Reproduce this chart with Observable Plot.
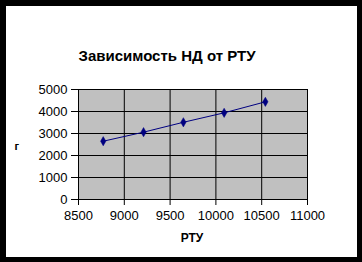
<!DOCTYPE html>
<html>
<head>
<meta charset="utf-8">
<script src="https://cdn.jsdelivr.net/npm/d3@7"></script>
<script src="https://cdn.jsdelivr.net/npm/@observablehq/plot@0.6"></script>
<style>
  html, body { margin: 0; padding: 0; background: #fff; }
  #wrap { width: 362px; height: 262px; box-sizing: border-box; background: #000;
          padding: 6px 5px 5px 6px; }
  #wrap svg { display: block; background: #fff; }
</style>
</head>
<body>
<div id="wrap"></div>
<script>
const rtu = [8770, 9210, 9645, 10090, 10540];
const nd = [2650, 3060, 3510, 3940, 4440];
const xTicks = [8500, 9000, 9500, 10000, 10500, 11000];
const yTicks = [0, 1000, 2000, 3000, 4000, 5000];
const title = "Зависимость НД от РТУ";
const xLabel = "РТУ";
const yLabel = "г";

const data = rtu.map((x, i) => ({x, y: nd[i]}));
const font = "'Liberation Sans', Arial, sans-serif";
const fmt = d => String(d);

const chart = Plot.plot({
  width: 351,
  height: 251,
  marginLeft: 72,
  marginRight: 50,
  marginTop: 83,
  marginBottom: 58,
  style: {fontFamily: font, fontSize: "13px", color: "#000", background: "#fff"},
  x: {domain: [8500, 11000]},
  y: {domain: [0, 5000]},
  marks: [
    Plot.frame({fill: "#c0c0c0", stroke: "none"}),
    Plot.gridX(xTicks, {stroke: "#000", strokeOpacity: 1, strokeWidth: 1}),
    Plot.gridY(yTicks, {stroke: "#000", strokeOpacity: 1, strokeWidth: 1}),
    Plot.axisX(xTicks, {tickSize: 6, tickPadding: 5, fontSize: 13, label: null, stroke: "#000", tickFormat: fmt}),
    Plot.axisY(yTicks, {tickSize: 7, tickPadding: 4, fontSize: 13, label: null, stroke: "#000", tickFormat: fmt}),
    Plot.ruleY([0], {stroke: "#000"}),
    Plot.ruleX([8500], {stroke: "#000"}),
    Plot.line(data, {x: "x", y: "y", stroke: "#000080", strokeWidth: 1}),
    Plot.dot(data, {x: "x", y: "y", symbol: "diamond", fill: "#000080", stroke: "#000080", strokeWidth: 0.5, r: 2.8}),
    Plot.text([title], {frameAnchor: "top", dy: -39, text: d => d, fontWeight: "bold", fontSize: 15, fill: "#000", dx: -26}),
    Plot.text([xLabel], {frameAnchor: "bottom", dy: 42, text: d => d, fontWeight: "bold", fontSize: 12, fill: "#000", dx: -1}),
    Plot.text([yLabel], {frameAnchor: "left", dx: -64, dy: 2, text: d => d, fontWeight: "bold", fontSize: 11, fill: "#000"})
  ]
});
document.getElementById("wrap").appendChild(chart);
</script>
</body>
</html>
